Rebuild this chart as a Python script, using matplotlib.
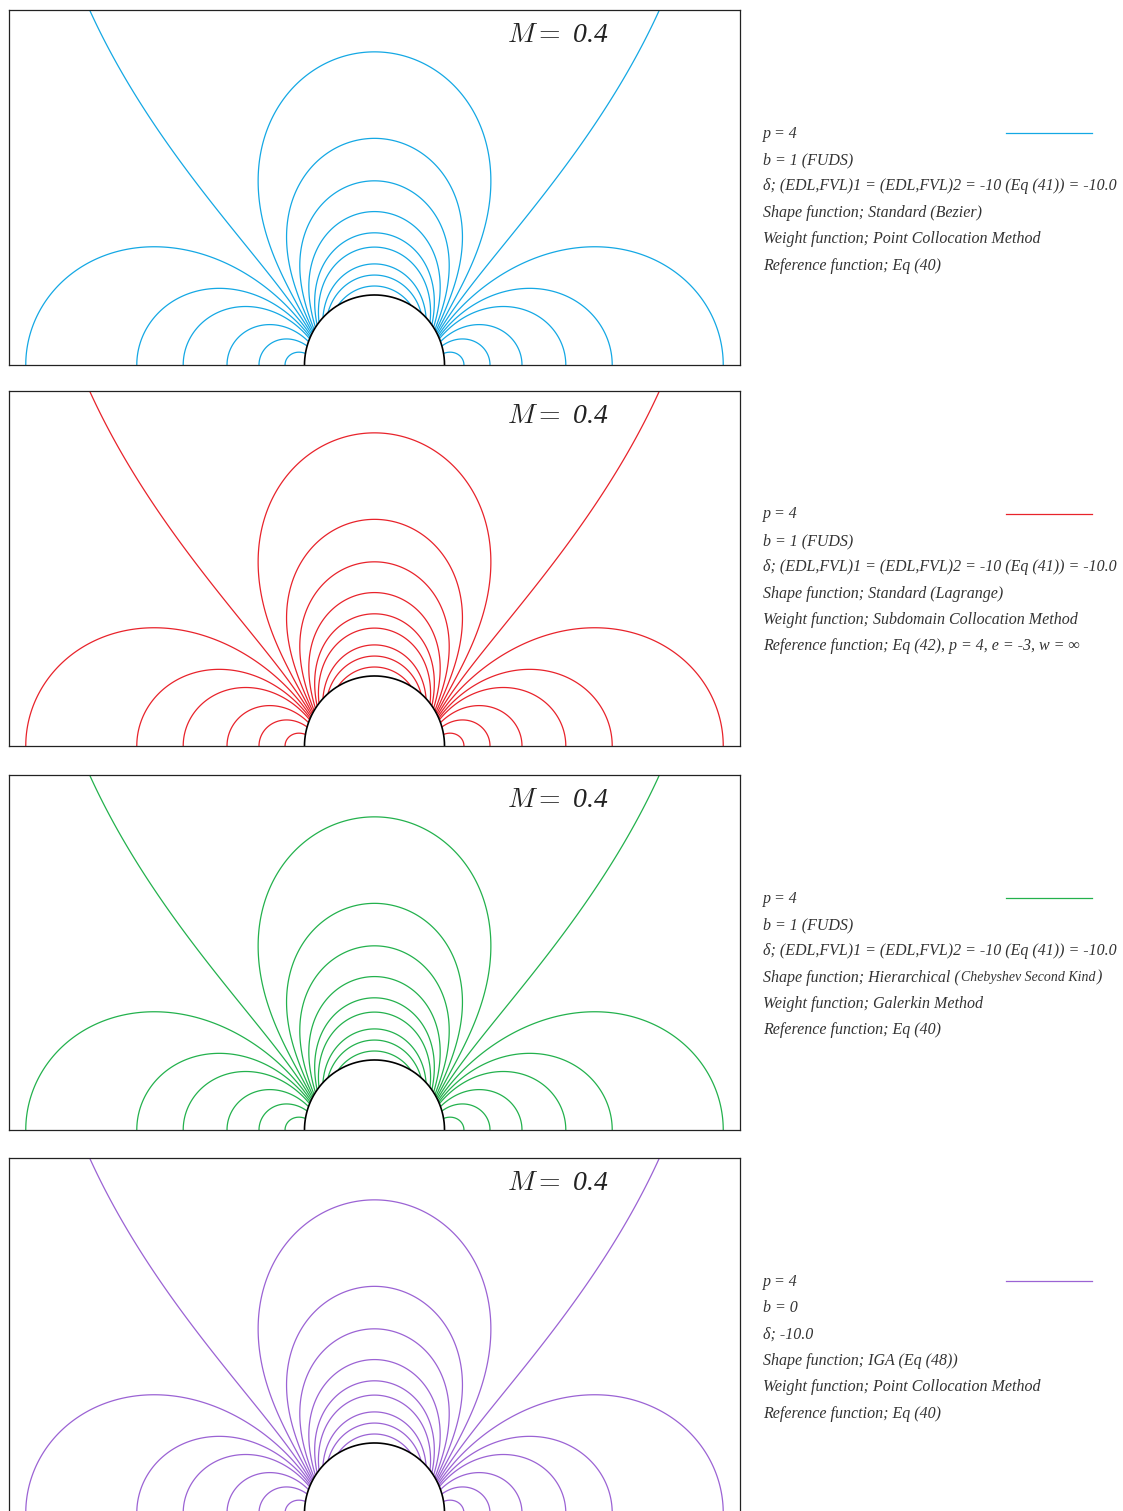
import numpy as np
import matplotlib.pyplot as plt

plt.rcParams['mathtext.fontset'] = 'cm'

W, H = 1123, 1511

# contour levels of the pressure coefficient (cylinder radius = 1)
cp_levels = [-2.19, -1.58, -1.19, -0.83, -0.64, -0.46, -0.31, -0.20, -0.1025,
             -0.011, 0.079, 0.166, 0.25, 0.40, 0.60, 0.85]

mach = 0.4
line_colors = ['#14a8e4', '#e8232b', '#23b14d', '#9b63d4']

# a tuple is drawn as (normal, smaller, normal) pieces
labels_bezier = ['p = 4', 'b = 1 (FUDS)',
                 'δ; (EDL,FVL)1 = (EDL,FVL)2 = -10 (Eq (41)) = -10.0',
                 'Shape function; Standard (Bezier)',
                 'Weight function; Point Collocation Method',
                 'Reference function; Eq (40)']
labels_lagrange = ['p = 4', 'b = 1 (FUDS)',
                   'δ; (EDL,FVL)1 = (EDL,FVL)2 = -10 (Eq (41)) = -10.0',
                   'Shape function; Standard (Lagrange)',
                   'Weight function; Subdomain Collocation Method',
                   'Reference function; Eq (42), p = 4, e = -3, w = ∞']
labels_cheb = ['p = 4', 'b = 1 (FUDS)',
               'δ; (EDL,FVL)1 = (EDL,FVL)2 = -10 (Eq (41)) = -10.0',
               ('Shape function; Hierarchical (', 'Chebyshev Second Kind', ')'),
               'Weight function; Galerkin Method',
               'Reference function; Eq (40)']
labels_iga = ['p = 4', 'b = 0', 'δ; -10.0',
              'Shape function; IGA (Eq (48))',
              'Weight function; Point Collocation Method',
              'Reference function; Eq (40)']
panel_labels = [labels_bezier, labels_lagrange, labels_cheb, labels_iga]

serif = ['Liberation Serif', 'DejaVu Serif']
txt_kw = dict(family=serif, style='italic', color='#333333', va='center')

# field around the half cylinder
xmax, ymax = 5.22, 5.07
x = np.linspace(-xmax, xmax, 1400)
y = np.linspace(0, ymax, 700)
X, Y = np.meshgrid(x, y)
r = np.hypot(X, Y)
th = np.arctan2(Y, X)
th_w = th + 0.09 * np.sin(2 * th) / r**2
cp = 2 * np.cos(2 * th_w) / r**2 - 1 / r**4
cp = np.where(r < 1, np.nan, cp)

t = np.linspace(0, np.pi, 300)

fig = plt.figure(figsize=(W / 100, H / 100), dpi=100)
tops = [10, 391, 775, 1158]
for k, top in enumerate(tops):
    ax = fig.add_axes([9 / W, 1 - (top + 355) / H, 731 / W, 355 / H])
    ax.contour(X, Y, cp, levels=cp_levels, colors=line_colors[k],
               linewidths=0.9, linestyles='solid')
    ax.plot(np.cos(t), np.sin(t), color='k', lw=1.2)
    ax.set_xlim(-xmax, xmax)
    ax.set_ylim(0, ymax)
    ax.set_xticks([])
    ax.set_yticks([])
    for sp in ax.spines.values():
        sp.set_linewidth(0.9)
        sp.set_color('#222222')
    ax.text(0.751, 0.927, r'$M=$ %.1f' % mach, transform=ax.transAxes,
            family=serif, style='italic', fontsize=20, ha='center',
            va='center', color='#222222')

    # legend block on the right
    for i, s in enumerate(panel_labels[k]):
        yy = 1 - (top + 123.5 + i * 26.4) / H
        if isinstance(s, tuple):
            t1 = fig.text(763 / W, yy, s[0], fontsize=11.5, ha='left', **txt_kw)
            t2 = ax.annotate(s[1], xy=(1, 0.5), xycoords=t1, xytext=(1, 0),
                             textcoords='offset points', fontsize=10,
                             ha='left', **txt_kw)
            ax.annotate(s[2], xy=(1, 0.5), xycoords=t2, xytext=(1, 0),
                        textcoords='offset points', fontsize=11.5,
                        ha='left', **txt_kw)
        else:
            fig.text(763 / W, yy, s, fontsize=11.5, ha='left', **txt_kw)
    yl = 1 - (top + 123) / H
    fig.add_artist(plt.Line2D([1006 / W, 1092 / W], [yl, yl],
                              color=line_colors[k], lw=0.9))

fig.savefig('out.png', dpi=100)
